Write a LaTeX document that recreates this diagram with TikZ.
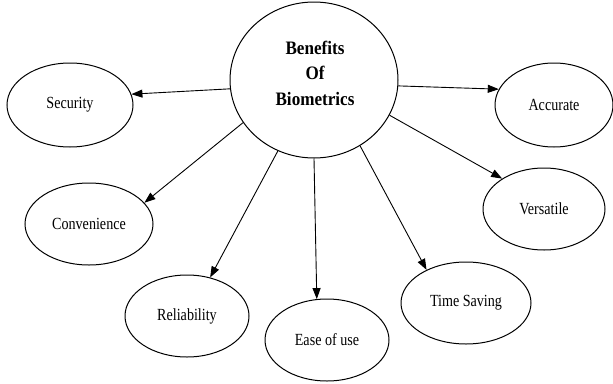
\documentclass[tikz,border=0pt]{standalone}
\usepackage{fontspec}
\setmainfont{Liberation Serif}
\usetikzlibrary{shapes.geometric,arrows.meta}
\newcommand{\sq}[1]{\scalebox{0.83}[1]{#1}}
\begin{document}
\begin{tikzpicture}[x=1pt,y=-1pt,
  bubble/.style={ellipse,draw,line width=1pt,inner sep=0pt,font=\fontsize{17}{19}\selectfont},
  link/.style={line width=0.9pt,-{Triangle[length=11pt,width=8pt]}}]
\useasboundingbox (0,0) rectangle (613,383);
\node[ellipse,draw,line width=1pt,minimum width=168pt,minimum height=156pt] (c) at (314,80) {};
\node[font=\bfseries\fontsize{19}{25.5}\selectfont,align=center] (ct) at (315,73) {\scalebox{0.9}[1]{Benefits}\\\scalebox{0.9}[1]{Of}\\\scalebox{0.9}[1]{Biometrics}};
\node[bubble,minimum width=126pt,minimum height=84pt] (sec) at (70,105) {\sq{Security}};
\node[bubble,minimum width=118pt,minimum height=84pt] (acc) at (554,105) {\sq{Accurate}};
\node[bubble,minimum width=128pt,minimum height=82pt] (con) at (89,224) {\sq{Convenience}};
\node[bubble,minimum width=122pt,minimum height=82pt] (ver) at (544,209) {\sq{Versatile}};
\node[bubble,minimum width=124pt,minimum height=82pt] (rel) at (187,316) {\sq{Reliability}};
\node[bubble,minimum width=124pt,minimum height=82pt] (eas) at (327,340) {\sq{Ease of use}};
\node[bubble,minimum width=130pt,minimum height=82pt] (tim) at (466,303) {\sq{Time Saving}};
\draw[link] (c.186) -- (sec.10);
\draw[link] (c.356) -- (acc.164);
\draw[link] (c.335) -- (ver.144);
\draw[link] (c.305) -- (tim.140);
\draw[link] (c.270) -- (eas.104);
\draw[link] (c.243) -- (rel.59);
\draw[link] (c.211) -- (con.21);
\end{tikzpicture}
\end{document}
